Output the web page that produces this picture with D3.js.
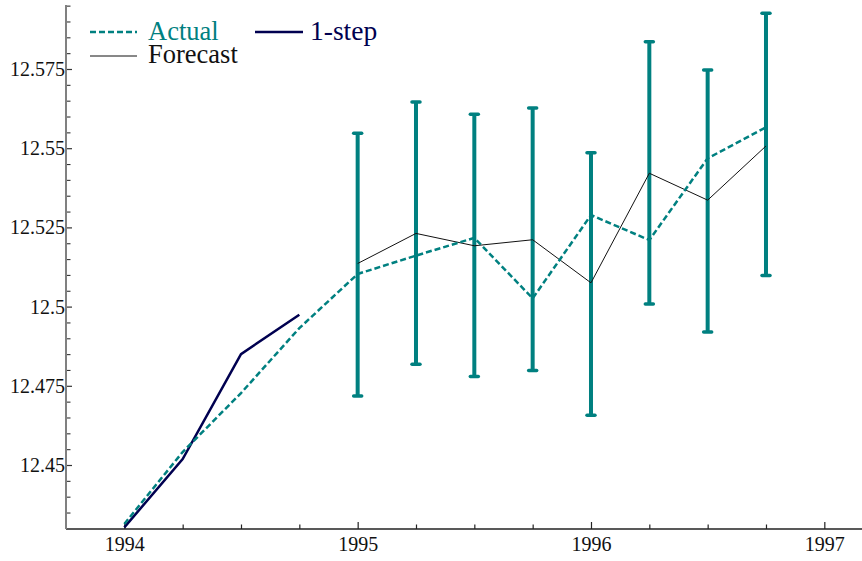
<!DOCTYPE html>
<html>
<head>
<meta charset="utf-8">
<script src="https://cdn.jsdelivr.net/npm/d3@7/dist/d3.min.js"></script>
<style>
html,body{margin:0;padding:0;background:#fff;}
svg{display:block;}
svg text{font-family:"Liberation Serif","Times New Roman",serif !important;}
</style>
</head>
<body>
<svg id="chart" width="862" height="561"></svg>
<script>
// ---- data ----
const quartersAll = [1994.0, 1994.25, 1994.5, 1994.75, 1995.0, 1995.25, 1995.5, 1995.75, 1996.0, 1996.25, 1996.5, 1996.75];
const actual = [12.4314, 12.4541, 12.4727, 12.4932, 12.5103, 12.5161, 12.5217, 12.5026, 12.5289, 12.5210, 12.5468, 12.5566];
const oneStepQuarters = [1994.0, 1994.25, 1994.5, 1994.75];
const oneStep = [12.4303, 12.4519, 12.4850, 12.4974];
const forecastQuarters = [1995.0, 1995.25, 1995.5, 1995.75, 1996.0, 1996.25, 1996.5, 1996.75];
const forecast = [12.5136, 12.5231, 12.5192, 12.5211, 12.5075, 12.5421, 12.5336, 12.5507];
const forecastUpper = [12.5547, 12.5646, 12.5607, 12.5627, 12.5486, 12.5836, 12.5747, 12.5926];
const forecastLower = [12.4718, 12.4818, 12.4779, 12.4798, 12.4657, 12.5008, 12.4920, 12.5098];
const xTickValues = [1994, 1995, 1996, 1997];
const xTickLabels = ["1994", "1995", "1996", "1997"];
const xMinorTicks = [1994.25, 1994.5, 1994.75, 1995.25, 1995.5, 1995.75, 1996.25, 1996.5, 1996.75, 1997.25];
const yTickValues = [12.45, 12.475, 12.5, 12.525, 12.55, 12.575];
const yTickLabels = ["12.45", "12.475", "12.5", "12.525", "12.55", "12.575"];
const yMinorTicks = [12.435, 12.44, 12.445, 12.455, 12.46, 12.465, 12.47, 12.48, 12.485, 12.49, 12.495,
  12.505, 12.51, 12.515, 12.52, 12.53, 12.535, 12.54, 12.545, 12.555, 12.56, 12.565, 12.57, 12.58, 12.585, 12.59, 12.595];
const legendLabels = ["Actual", "1-step", "Forecast"];

// ---- styles ----
const TEAL = "#008080";
const NAVY = "#000050";
const SERIF = "'Liberation Serif', 'Times New Roman', serif";

const svg = d3.select("#chart");
const mLeft = 66, mBottom = 529, mTop = 5;
const yearW = 233.33;
const x = d3.scaleLinear().domain([1993.75, 1997.25]).range([mLeft, mLeft + 3.5 * yearW]);
const y = d3.scaleLinear().domain([12.4298, 12.5952]).range([mBottom, mTop]);

// ---- axes ----
const gx = svg.append("g").attr("transform", `translate(0,${mBottom})`);
gx.call(d3.axisBottom(x).tickValues(xMinorTicks).tickSize(-4.5).tickFormat(""));
gx.selectAll(".tick line").attr("stroke", "#222").attr("stroke-width", 1.2);
const gx2 = svg.append("g").attr("transform", `translate(0,${mBottom})`);
gx2.call(d3.axisBottom(x).tickValues(xTickValues).tickSize(-7).tickPadding(8)
  .tickFormat((d, i) => xTickLabels[i]));
gx2.attr("font-family", SERIF);
gx2.selectAll(".tick line").attr("stroke", "#222").attr("stroke-width", 1.2);
gx2.selectAll(".tick text").attr("font-size", 20).attr("fill", "#111")
  .style("font-family", SERIF);
gx.select(".domain").remove();
gx2.select(".domain").remove();
svg.append("line").attr("x1", mLeft).attr("x2", 862).attr("y1", mBottom).attr("y2", mBottom)
  .attr("stroke", "#222").attr("stroke-width", 1.6);

const gy = svg.append("g").attr("transform", `translate(${mLeft},0)`);
gy.call(d3.axisLeft(y).tickValues(yMinorTicks).tickSize(-4.5).tickFormat(""));
gy.selectAll(".tick line").attr("stroke", "#333").attr("stroke-width", 1.1);
const gy2 = svg.append("g").attr("transform", `translate(${mLeft},0)`);
gy2.call(d3.axisLeft(y).tickValues(yTickValues).tickSize(-6).tickPadding(1)
  .tickFormat((d, i) => yTickLabels[i]));
gy2.attr("font-family", SERIF);
gy2.selectAll(".tick line").attr("stroke", "#333").attr("stroke-width", 1.2);
gy2.selectAll(".tick text").attr("font-size", 20).attr("fill", "#111")
  .style("font-family", SERIF);
gy.select(".domain").remove();
gy2.select(".domain").remove();
svg.append("line").attr("x1", mLeft).attr("x2", mLeft).attr("y1", mTop).attr("y2", mBottom)
  .attr("stroke", "#808080").attr("stroke-width", 2);

// ---- error bars ----
const eb = svg.append("g");
forecastQuarters.forEach((q, i) => {
  const cx = x(q);
  eb.append("line").attr("x1", cx).attr("x2", cx)
    .attr("y1", y(forecastUpper[i])).attr("y2", y(forecastLower[i]))
    .attr("stroke", TEAL).attr("stroke-width", 4);
  [forecastUpper[i], forecastLower[i]].forEach(v => {
    eb.append("line").attr("x1", cx - 4).attr("x2", cx + 4)
      .attr("y1", y(v)).attr("y2", y(v))
      .attr("stroke", TEAL).attr("stroke-width", 3.5).attr("stroke-linecap", "round");
  });
});

// ---- lines ----
const line = d3.line().x(d => x(d[0])).y(d => y(d[1]));
svg.append("path").datum(forecastQuarters.map((q, i) => [q, forecast[i]]))
  .attr("d", line).attr("fill", "none").attr("stroke", "#111").attr("stroke-width", 1);
svg.append("path").datum(oneStepQuarters.map((q, i) => [q, oneStep[i]]))
  .attr("d", line).attr("fill", "none").attr("stroke", NAVY).attr("stroke-width", 2.5);
svg.append("path").datum(quartersAll.map((q, i) => [q, actual[i]]))
  .attr("d", line).attr("fill", "none").attr("stroke", TEAL).attr("stroke-width", 2.5)
  .attr("stroke-dasharray", "6,3");

// ---- legend ----
const lg = svg.append("g").style("font-family", SERIF);
lg.append("line").attr("x1", 90).attr("x2", 137).attr("y1", 32).attr("y2", 32)
  .attr("stroke", TEAL).attr("stroke-width", 2.5).attr("stroke-dasharray", "6,3");
lg.append("text").attr("x", 148).attr("y", 40).attr("font-size", 26.5).attr("fill", TEAL).text(legendLabels[0]);
lg.append("line").attr("x1", 255).attr("x2", 303).attr("y1", 32).attr("y2", 32)
  .attr("stroke", NAVY).attr("stroke-width", 2.5);
lg.append("text").attr("x", 310).attr("y", 40).attr("font-size", 27.5).attr("fill", NAVY).text(legendLabels[1]);
lg.append("line").attr("x1", 90).attr("x2", 137).attr("y1", 56).attr("y2", 56)
  .attr("stroke", "#111").attr("stroke-width", 1);
lg.append("text").attr("x", 148).attr("y", 63).attr("font-size", 26.5).attr("fill", "#111").text(legendLabels[2]);
</script>
</body>
</html>
